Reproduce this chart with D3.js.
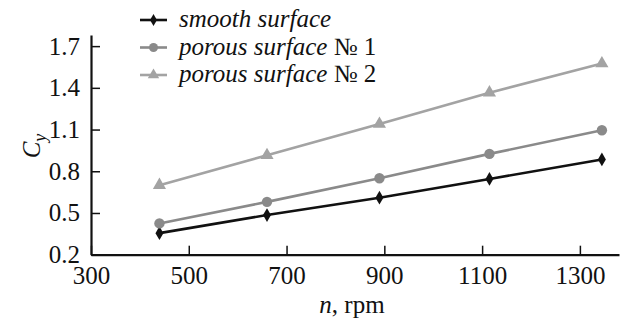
<!DOCTYPE html>
<html>
<head>
    <meta charset='utf-8'>
    <script src='https://cdn.jsdelivr.net/npm/d3@7'></script>
    <style>body { margin: 0; }</style>
</head>
<body>
    <svg width='621' height='322'></svg>
    <script>
        const rpm = [440, 660, 890, 1115, 1345]
        const smooth = [0.355, 0.485, 0.61, 0.745, 0.885]
        const porous1 = [0.425, 0.58, 0.75, 0.925, 1.095]
        const porous2 = [0.70, 0.915, 1.14, 1.365, 1.575]
        const xTicks = [300, 500, 700, 900, 1100, 1300]
        const yTicks = [0.2, 0.5, 0.8, 1.1, 1.4, 1.7]

        const FONT = 'Liberation Serif'
        const FS = '25px'

        const series = [
            { name: 'smooth surface', num: '', values: smooth, color: '#111', symbol: d3.symbolDiamond, size: 55 },
            { name: 'porous surface ', num: '№ 1', values: porous1, color: '#8a8a8a', symbol: d3.symbolCircle, size: 85 },
            { name: 'porous surface ', num: '№ 2', values: porous2, color: '#a3a3a3', symbol: d3.symbolTriangle, size: 75 }
        ]

        const svg = d3.select('svg')

        const x = d3.scaleLinear().domain([300, 1380]).range([91, 619])
        const y = d3.scaleLinear().domain([0.2, 1.78]).range([254.7, 35])

        // axes: ticks point inward
        const gx = svg.append('g')
            .attr('transform', `translate(0,${y(0.2)})`)
            .call(d3.axisBottom(x).tickValues(xTicks).tickFormat(d3.format('d')).tickSizeInner(-9).tickSizeOuter(0).tickPadding(12))
        const gy = svg.append('g')
            .attr('transform', `translate(${x(300)},0)`)
            .call(d3.axisLeft(y).tickValues(yTicks).tickFormat(d3.format('.1f')).tickSizeInner(-9).tickSizeOuter(0).tickPadding(11))

        gx.attr('font-family', null).attr('font-size', null)
        gy.attr('font-family', null).attr('font-size', null)
        svg.selectAll('.domain').attr('stroke', '#111').attr('stroke-width', 2.2)
        svg.selectAll('.tick line').attr('stroke', '#111').attr('stroke-width', 1.5)
        svg.selectAll('.tick text')
            .style('font-family', FONT)
            .style('font-size', FS)
            .attr('fill', '#111')

        const line = d3.line().x((d, i) => x(rpm[i])).y(d => y(d))

        series.forEach(s => {
            svg.append('path')
                .datum(s.values)
                .attr('fill', 'none')
                .attr('stroke', s.color)
                .attr('stroke-width', 2.6)
                .attr('d', line)
            svg.selectAll(null)
                .data(s.values)
                .enter()
                .append('path')
                .attr('d', d3.symbol().type(s.symbol).size(s.size))
                .attr('fill', s.color)
                .attr('transform', (d, i) => `translate(${x(rpm[i])},${y(d)})`)
        })

        // legend
        series.forEach((s, i) => {
            const yy = 20 + i * 27.5
            svg.append('line')
                .attr('x1', 140).attr('x2', 167)
                .attr('y1', yy).attr('y2', yy)
                .attr('stroke', s.color).attr('stroke-width', 2.6)
            svg.append('path')
                .attr('d', d3.symbol().type(s.symbol).size(s.size * 0.75))
                .attr('fill', s.color)
                .attr('transform', `translate(153.5,${yy})`)
            const t = svg.append('text')
                .attr('x', 179).attr('y', yy + 7)
                .style('font-family', FONT).style('font-size', FS)
                .attr('fill', '#111')
            t.append('tspan').attr('font-style', 'italic').text(s.name)
            if (s.num) t.append('tspan').text(s.num)
        })

        // axis titles
        const xt = svg.append('text')
            .attr('x', 352).attr('y', 313)
            .attr('text-anchor', 'middle')
            .style('font-family', FONT).style('font-size', FS)
            .attr('fill', '#111')
        xt.append('tspan').attr('font-style', 'italic').text('n')
        xt.append('tspan').text(', rpm')

        const yt = svg.append('text')
            .attr('transform', 'translate(40,146) rotate(-90)')
            .attr('text-anchor', 'middle')
            .style('font-family', FONT).style('font-size', FS)
            .attr('fill', '#111')
        yt.append('tspan').attr('font-style', 'italic').text('C')
        yt.append('tspan').attr('font-style', 'italic').attr('font-size', 18).attr('dy', 6).text('y')
    </script>
</body>
</html>
